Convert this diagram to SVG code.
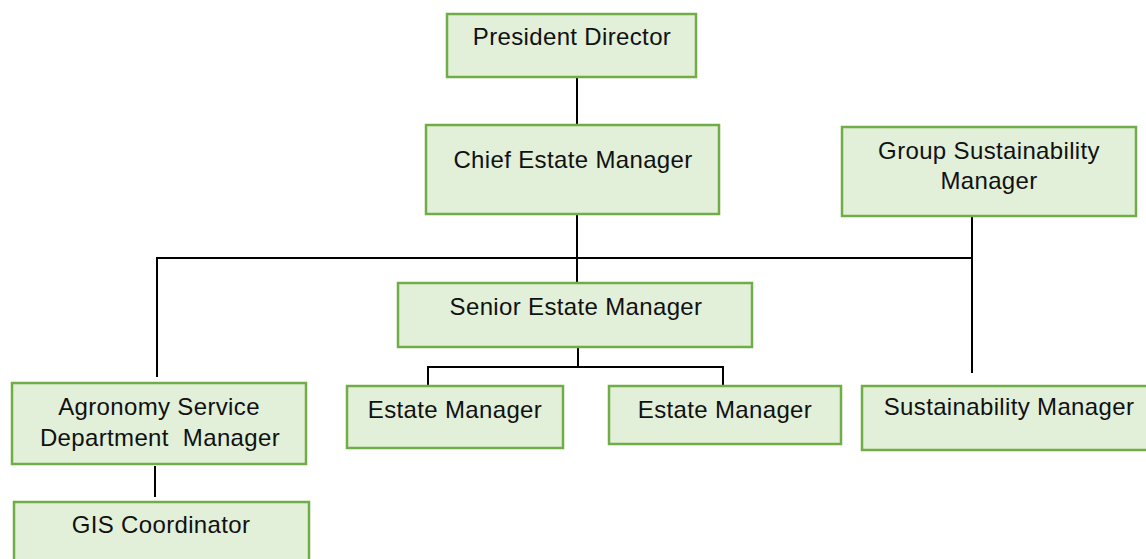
<svg xmlns="http://www.w3.org/2000/svg" width="1146" height="559" viewBox="0 0 1146 559">
<style>
.box{fill:#e2efd9;stroke:#70ad47;stroke-width:2.5}
.t{font-family:"Liberation Sans",Arial,sans-serif;font-size:24px;letter-spacing:0.35px;fill:#111;text-anchor:middle;white-space:pre}
.c{stroke:#000;stroke-width:2;fill:none}
</style>
<rect width="1146" height="559" fill="#fff"/>
<g id="connectors">
<path class="c" d="M577 77V125"/>
<path class="c" d="M577 214V283"/>
<path class="c" d="M157 377V258H972"/>
<path class="c" d="M972 216V373"/>
<path class="c" d="M578 347V367"/>
<path class="c" d="M428 386V367H723V386"/>
<path class="c" d="M155 466V497"/>
</g>
<g id="president"><rect class="box" x="447" y="14" width="249" height="63"/><text class="t" x="572" y="45">President Director</text></g>
<g id="chief"><rect class="box" x="426" y="125" width="293" height="89"/><text class="t" x="573" y="168">Chief Estate Manager</text></g>
<g id="group-sust"><rect class="box" x="842" y="127" width="294" height="89"/><text class="t" x="989" y="159">Group Sustainability</text><text class="t" x="989" y="189">Manager</text></g>
<g id="senior"><rect class="box" x="398" y="283" width="354" height="64"/><text class="t" x="576" y="315">Senior Estate Manager</text></g>
<g id="estate1"><rect class="box" x="347" y="386" width="216" height="62"/><text class="t" x="455" y="418">Estate Manager</text></g>
<g id="estate2"><rect class="box" x="609" y="386" width="232" height="58"/><text class="t" x="725" y="418">Estate Manager</text></g>
<g id="sust"><rect class="box" x="862" y="386" width="290" height="64"/><text class="t" x="1009" y="415">Sustainability Manager</text></g>
<g id="agronomy"><rect class="box" x="12" y="383" width="294" height="81"/><text class="t" x="159" y="415">Agronomy Service</text><text class="t" x="160" y="446">Department  Manager</text></g>
<g id="gis"><rect class="box" x="14" y="502" width="295" height="70"/><text class="t" x="161" y="533">GIS Coordinator</text></g>
</svg>
